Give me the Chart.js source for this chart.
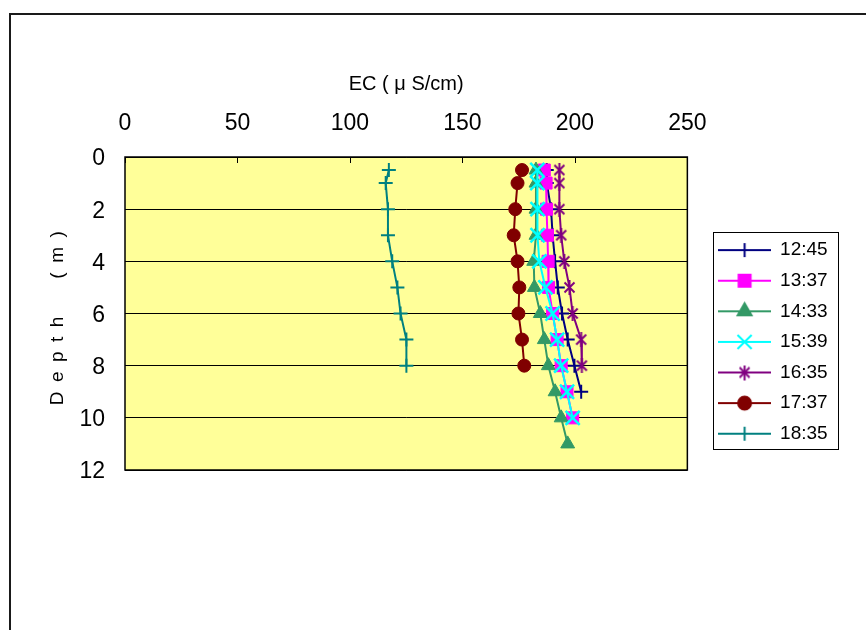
<!DOCTYPE html>
<html>
<head>
<meta charset="utf-8">
<script src="https://cdn.jsdelivr.net/npm/chart.js@4.4.1/dist/chart.umd.min.js"></script>
<style>
  html, body { margin: 0; padding: 0; background: #fff; }
</style>
</head>
<body>
<canvas id="myChart-EC" width="866" height="630"></canvas>
<script>
// tick values for the two axes
const ecTicks = [0, 50, 100, 150, 200, 250];
const depthTicks = [0, 2, 4, 6, 8, 10, 12];

const seriesNames = ['12:45', '13:37', '14:33', '15:39', '16:35', '17:37', '18:35'];

// depth (m) of each reading
const depth1245 = [0.5, 1, 2, 3, 4, 5, 6, 7, 8, 9];
const depth1337 = [0.5, 1, 2, 3, 4, 5, 6, 7, 8, 9, 10];
const depth1433 = [0.5, 1, 2, 3, 4, 5, 6, 7, 8, 9, 10, 11];
const depth1539 = [0.5, 1, 2, 3, 4, 5, 6, 7, 8, 9, 10];
const depth1635 = [0.5, 1, 2, 3, 4, 5, 6, 7, 8];
const depth1737 = [0.5, 1, 2, 3, 4, 5, 6, 7, 8];
const depth1835 = [0.5, 1, 2, 3, 4, 5, 6, 7, 8];

// EC (uS/cm)
const ec1245 = [187.5, 187.5, 189.4, 190.1, 191.2, 192.4, 194.3, 196.8, 199.8, 202.8];
const ec1337 = [186.4, 187.2, 187.4, 187.8, 188.1, 188.3, 190.1, 192.1, 193.9, 196.5, 199.0];
const ec1433 = [182.7, 182.7, 182.7, 182.7, 181.7, 182.0, 184.6, 186.4, 188.2, 191.2, 193.9, 196.8];
const ec1539 = [183.3, 183.3, 183.4, 183.4, 184.2, 186.9, 190.1, 192.1, 193.9, 196.5, 199.0];
const ec1635 = [193.1, 193.1, 193.1, 193.9, 195.3, 197.6, 199.0, 202.8, 203.1];
const ec1737 = [176.5, 174.5, 173.5, 172.8, 174.5, 175.3, 174.9, 176.5, 177.5];
const ec1835 = [117.3, 115.9, 116.9, 116.9, 118.8, 121.1, 122.5, 125.1, 125.1];

const depths = [depth1245, depth1337, depth1433, depth1539, depth1635, depth1737, depth1835];
const ecs = [ec1245, ec1337, ec1433, ec1539, ec1635, ec1737, ec1835];

const colors = ['#000080', '#FF00FF', '#339966', '#00FFFF', '#800080', '#800000', '#008080'];

const FONT = '"Liberation Sans", Arial, sans-serif';
Chart.defaults.font.family = FONT;
Chart.defaults.color = '#000';

// excel-like asterisk: X with a vertical bar
function starMarker(color) {
  const c = document.createElement('canvas');
  c.width = 15; c.height = 15;
  const g = c.getContext('2d');
  g.strokeStyle = color;
  g.lineWidth = 2;
  g.beginPath();
  g.moveTo(2.5, 2.5); g.lineTo(12.5, 12.5);
  g.moveTo(12.5, 2.5); g.lineTo(2.5, 12.5);
  g.moveTo(7.5, 0); g.lineTo(7.5, 15);
  g.stroke();
  return c;
}

const markers = [
  {pointStyle: 'cross', radius: 7, borderWidth: 2},
  {pointStyle: 'rect', radius: 8.5, borderWidth: 1},
  {pointStyle: 'triangle', radius: 8, borderWidth: 1},
  {pointStyle: 'crossRot', radius: 10, borderWidth: 2.5},
  {pointStyle: starMarker(colors[4]), radius: 7, borderWidth: 2},
  {pointStyle: 'circle', radius: 6.5, borderWidth: 1},
  {pointStyle: 'cross', radius: 7, borderWidth: 2}
];

// legend glyph: short line with the marker in the middle
function legendIcon(i) {
  const c = document.createElement('canvas');
  c.width = 53; c.height = 22;
  const g = c.getContext('2d');
  g.strokeStyle = colors[i];
  g.fillStyle = colors[i];
  g.lineWidth = 2;
  g.beginPath(); g.moveTo(0, 11); g.lineTo(53, 11); g.stroke();
  Chart.helpers.drawPoint(g, markers[i], 26.5, 11);
  return c;
}

const datasets = seriesNames.map((name, i) => ({
  label: name,
  data: ecs[i].map((v, k) => ({x: v, y: depths[i][k]})),
  showLine: true,
  borderColor: colors[i],
  backgroundColor: colors[i],
  borderWidth: 2,
  pointStyle: markers[i].pointStyle,
  pointRadius: markers[i].radius,
  pointHoverRadius: markers[i].radius,
  pointBorderWidth: markers[i].borderWidth,
  pointBorderColor: colors[i],
  pointBackgroundColor: colors[i],
  order: seriesNames.length - i
}));

const framePlugin = {
  id: 'frame',
  beforeDraw(chart) {
    const {ctx, chartArea: a} = chart;
    ctx.save();
    ctx.fillStyle = '#fff';
    ctx.fillRect(0, 0, chart.width, chart.height);
    ctx.strokeStyle = '#1a1a1a';
    ctx.lineWidth = 2;
    ctx.strokeRect(10, 14, 1000, 1000);
    ctx.fillStyle = '#FFFF99';
    ctx.fillRect(a.left, a.top, a.width, a.height);
    ctx.restore();
  },
  beforeDatasetsDraw(chart) {
    const {ctx, chartArea: a, scales: {x}} = chart;
    ctx.save();
    ctx.strokeStyle = '#000';
    ctx.lineWidth = 1.5;
    ctx.strokeRect(a.left, a.top, a.width, a.height);
    ctx.lineWidth = 1;
    x.ticks.forEach(t => {
      const px = Math.round(x.getPixelForValue(t.value)) + 0.5;
      ctx.beginPath();
      ctx.moveTo(px, a.top);
      ctx.lineTo(px, a.top + 6);
      ctx.stroke();
    });
    ctx.restore();
  },
  afterLayout(chart) {
    const lg = chart.legend;
    const w = lg.width, h = lg.height;
    lg.left = 707; lg.right = 707 + w;
    lg.top = 229; lg.bottom = 229 + h;
  },
  afterDraw(chart) {
    const lg = chart.legend;
    const ctx = chart.ctx;
    ctx.save();
    ctx.strokeStyle = '#000';
    ctx.lineWidth = 1;
    ctx.strokeRect(lg.left + 6.5, lg.top + 3.5, 125, 217);
    ctx.restore();
  }
};

new Chart(document.getElementById('myChart-EC'), {
  type: 'scatter',
  data: { datasets },
  options: {
    responsive: false,
    animation: false,
    devicePixelRatio: 1,
    layout: { padding: { left: 0, top: 0, right: 48, bottom: 160 } },
    plugins: {
      tooltip: { enabled: false },
      legend: {
        position: 'right',
        align: 'start',
        labels: {
          usePointStyle: true,
          pointStyleWidth: 52,
          padding: 11.6,
          color: '#000',
          font: { size: 19 },
          sort: (a, b) => a.datasetIndex - b.datasetIndex,
          generateLabels(chart) {
            const items = Chart.defaults.plugins.legend.labels.generateLabels(chart);
            items.forEach(it => { it.pointStyle = legendIcon(it.datasetIndex); });
            return items;
          }
        }
      }
    },
    scales: {
      x: {
        type: 'linear',
        position: 'top',
        min: ecTicks[0],
        max: ecTicks[ecTicks.length - 1],
        ticks: { stepSize: ecTicks[1] - ecTicks[0], padding: 20, font: { size: 23 } },
        grid: { display: false, drawTicks: false },
        border: { display: false },
        title: {
          display: true,
          text: 'EC ( μ S/cm)',
          font: { size: 20 },
          padding: { top: 72, bottom: 0 }
        },
        afterFit(s) { s.height = 157; }
      },
      y: {
        type: 'linear',
        reverse: true,
        min: depthTicks[0],
        max: depthTicks[depthTicks.length - 1],
        ticks: { stepSize: depthTicks[1] - depthTicks[0], padding: 20, labelOffset: 2, font: { size: 23 } },
        grid: { color: '#000', lineWidth: 1, drawTicks: false },
        border: { display: false },
        title: {
          display: true,
          text: 'D\u2002e\u2002p\u2002t\u2002h\u2003\u2003(\u2002m\u2002)\u2002',
          font: { size: 19 },
          padding: { top: 46, bottom: 0 }
        },
        afterFit(s) { s.width = 125; }
      }
    }
  },
  plugins: [framePlugin]
});
</script>
</body>
</html>
